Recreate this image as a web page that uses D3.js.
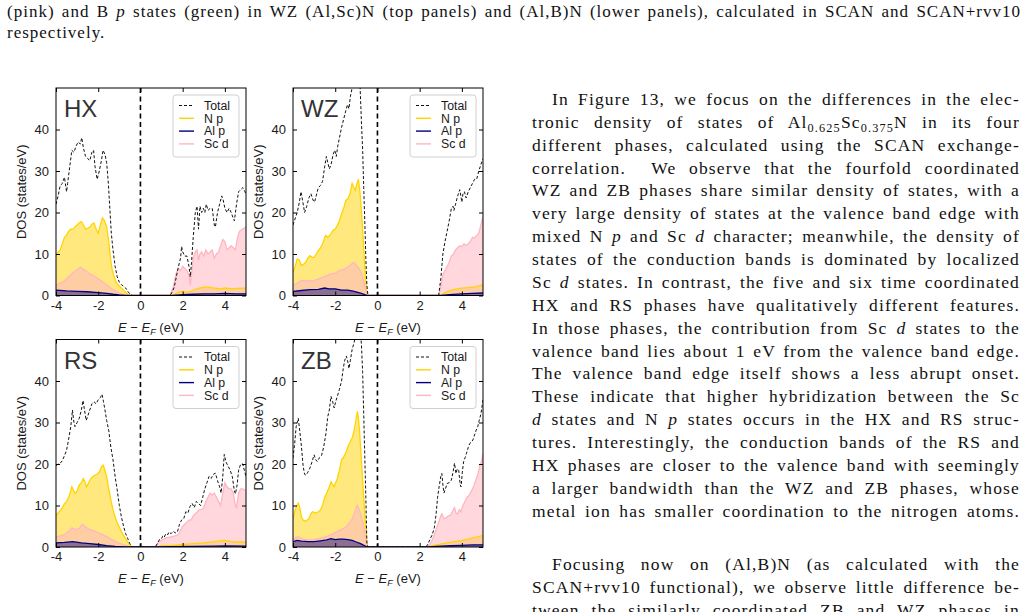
<!DOCTYPE html>
<html>
<head>
<meta charset="utf-8">
<script src="https://cdn.jsdelivr.net/npm/d3@7"></script>
<style>
  body { margin: 0; background: #fff; }
  svg { display: block; }
</style>
</head>
<body>
<svg id="page" width="1029" height="612"></svg>
<script>
// ---- data: [E - E_F (eV), DOS (states/eV)] ----
var phases = ['HX', 'WZ', 'RS', 'ZB'];
var legendLabels = ['Total', 'N p', 'Al p', 'Sc d'];
var xTicks = [-4, -2, 0, 2, 4];
var yTicks = [0, 10, 20, 30, 40];

var hxTotal = [[-4,22],[-3.9,24],[-3.8,26.5],[-3.7,27],[-3.6,28.5],[-3.5,25],[-3.45,27],[-3.35,31],[-3.25,35],[-3.15,34.5],[-3.05,36],[-2.95,37],[-2.85,36.5],[-2.78,38],[-2.7,35.5],[-2.6,33.5],[-2.5,33],[-2.4,32.5],[-2.3,34.5],[-2.22,35],[-2.15,31],[-2.05,28],[-1.95,30],[-1.85,32.5],[-1.77,35],[-1.68,34],[-1.6,32],[-1.52,27],[-1.45,21],[-1.38,15],[-1.3,11],[-1.2,7],[-1.1,4.5],[-1.0,3.2],[-0.9,2.6],[-0.8,2.2],[-0.7,1.8],[-0.6,1.0],[-0.5,0.4],[-0.4,0],[1.4,0],[1.5,0.8],[1.6,2],[1.7,4.5],[1.8,7],[1.9,9],[1.95,11.8],[2.0,10.5],[2.1,9.5],[2.2,9.5],[2.3,7],[2.36,4.5],[2.42,8],[2.5,14],[2.6,20],[2.68,21.5],[2.75,16],[2.82,21.5],[2.9,20],[2.98,21],[3.05,20],[3.12,22],[3.2,20.5],[3.3,21],[3.4,21],[3.5,17],[3.55,16.5],[3.65,20],[3.75,22],[3.85,24],[3.92,23],[4.0,21],[4.1,20],[4.2,21],[4.3,20],[4.4,18.5],[4.45,18],[4.55,22],[4.65,25],[4.75,25.5],[4.85,26],[4.95,25],[5.0,24.5]];
var hxNp = [[-4,9.5],[-3.9,10.5],[-3.8,11],[-3.7,12.5],[-3.6,14],[-3.5,14.5],[-3.4,15.5],[-3.3,16],[-3.2,16],[-3.1,16.5],[-3,17],[-2.9,17.5],[-2.8,17.8],[-2.7,17],[-2.6,16],[-2.5,16.2],[-2.4,16.5],[-2.3,17.2],[-2.2,17.5],[-2.1,16],[-2.0,15],[-1.9,17],[-1.8,18.7],[-1.7,18],[-1.6,16.5],[-1.5,13],[-1.42,9],[-1.35,6.5],[-1.25,4.5],[-1.15,3.2],[-1.0,2.2],[-0.9,1.8],[-0.8,1.3],[-0.7,0.8],[-0.6,0.4],[-0.5,0.1],[-0.4,0],[1.45,0],[1.6,0.3],[1.8,0.8],[2.0,1.0],[2.2,0.8],[2.4,1.0],[2.6,1.5],[2.8,1.8],[3.0,2.0],[3.2,2.0],[3.5,1.8],[3.8,1.6],[4.0,1.8],[4.3,1.6],[4.6,1.7],[5.0,1.8]];
var hxAlp = [[-4,1.3],[-3.5,1.1],[-3,1.0],[-2.5,0.9],[-2,0.7],[-1.6,0.5],[-1.3,0.3],[-1.0,0.15],[-0.7,0.05],[-0.5,0],[1.5,0],[2,0.2],[2.5,0.3],[3,0.4],[3.5,0.4],[4,0.5],[4.5,0.4],[5,0.4]];
var hxScd = [[-4,2.5],[-3.8,3],[-3.6,3.5],[-3.4,4.5],[-3.2,5.5],[-3.0,6.2],[-2.85,6.8],[-2.75,6.5],[-2.6,6],[-2.4,5.2],[-2.2,4.7],[-2.0,4],[-1.8,3.3],[-1.6,2.6],[-1.4,1.8],[-1.2,1.1],[-1.0,0.6],[-0.8,0.3],[-0.6,0.1],[-0.45,0],[1.4,0],[1.55,2],[1.7,5.5],[1.8,6.5],[1.9,6],[2.0,7],[2.1,6.5],[2.2,6],[2.3,5],[2.36,2.5],[2.42,5],[2.5,9],[2.6,10.5],[2.68,11],[2.75,8.5],[2.82,10],[2.9,10.5],[3.0,9.5],[3.1,11],[3.2,10],[3.3,10.5],[3.4,11],[3.5,9],[3.6,10],[3.7,10.5],[3.8,12],[3.9,13.5],[4.0,13],[4.1,11],[4.2,11.5],[4.3,12],[4.4,11.5],[4.5,11],[4.6,14],[4.7,15.5],[4.85,16],[5.0,16.5]];

var wzTotal = [[-4,17],[-3.9,18.5],[-3.8,20],[-3.7,22.5],[-3.62,25],[-3.55,23],[-3.45,20],[-3.35,21.5],[-3.25,23.5],[-3.15,24.5],[-3.05,23],[-2.98,22.5],[-2.9,24],[-2.8,26],[-2.7,26.5],[-2.6,27.5],[-2.5,31],[-2.42,33.5],[-2.35,32],[-2.28,30.5],[-2.2,31.5],[-2.1,34],[-2.02,35],[-1.95,33.5],[-1.88,36],[-1.8,38],[-1.7,40.5],[-1.6,42.5],[-1.5,44.5],[-1.42,46],[-1.35,45],[-1.28,48],[-1.2,50],[-1.1,53],[-1.0,55],[-0.9,54],[-0.82,50],[-0.76,42],[-0.7,35],[-0.65,26],[-0.6,18],[-0.55,9],[-0.5,2.5],[-0.45,0],[2.9,0],[3.0,4],[3.1,10],[3.2,13],[3.3,15.5],[3.4,18],[3.5,21],[3.58,21.5],[3.62,20.5],[3.7,22],[3.8,24],[3.9,25.5],[3.95,24],[4.0,22.5],[4.05,24.5],[4.12,25],[4.2,23.5],[4.3,25],[4.4,26],[4.5,27],[4.6,28],[4.7,28],[4.8,30],[4.9,31.5],[5.0,33]];
var wzNp = [[-4,5.6],[-3.9,7],[-3.8,8.8],[-3.7,8.5],[-3.6,7.2],[-3.5,7.5],[-3.4,8],[-3.3,9],[-3.2,9.6],[-3.1,9.2],[-3.0,9.2],[-2.9,10],[-2.8,10.8],[-2.7,11.5],[-2.6,12.4],[-2.5,14],[-2.45,14.5],[-2.35,14],[-2.25,14.5],[-2.1,15.7],[-2.0,16],[-1.9,16.9],[-1.8,18],[-1.7,19.7],[-1.6,21],[-1.5,22.9],[-1.4,23.3],[-1.3,24.5],[-1.2,27],[-1.12,26],[-1.05,25.3],[-0.97,27],[-0.9,28],[-0.83,25],[-0.77,21],[-0.7,15.7],[-0.6,6.8],[-0.52,1.2],[-0.47,0],[3.0,0],[3.2,0.7],[3.4,1.1],[3.6,1.4],[3.8,1.6],[4.0,1.8],[4.3,1.9],[4.6,2.1],[4.8,2.3],[5.0,2.6]];
var wzAlp = [[-4,1.0],[-3.6,1.2],[-3.2,1.4],[-2.8,1.5],[-2.5,1.8],[-2.3,1.6],[-2.0,1.6],[-1.7,1.3],[-1.4,1.3],[-1.1,1.0],[-0.8,0.6],[-0.6,0.2],[-0.47,0],[3.0,0],[3.4,0.2],[4.0,0.4],[4.5,0.5],[5.0,0.6]];
var wzScd = [[-4,2.4],[-3.8,3],[-3.6,3.6],[-3.3,3.5],[-3.0,3.6],[-2.8,4],[-2.6,4.4],[-2.4,4.8],[-2.2,5.2],[-2.0,5.4],[-1.8,6],[-1.6,6.3],[-1.4,6.8],[-1.25,7.5],[-1.15,8],[-1.05,7.6],[-0.95,7],[-0.85,6.4],[-0.75,5.2],[-0.65,3.5],[-0.55,1.2],[-0.47,0],[2.9,0],[3.0,2],[3.1,5],[3.2,6],[3.3,7],[3.4,8],[3.5,9.5],[3.6,10],[3.7,11],[3.8,11.5],[3.9,12],[4.0,11.8],[4.1,12.5],[4.2,12],[4.3,12.5],[4.4,13],[4.5,14],[4.6,13.8],[4.7,14.5],[4.8,15],[4.9,17],[5.0,19]];

var rsTotal = [[-4,19.6],[-3.9,20],[-3.8,20.2],[-3.7,20.8],[-3.6,22],[-3.5,23.3],[-3.4,26],[-3.3,29],[-3.22,33],[-3.15,30],[-3.1,29],[-3.0,30],[-2.9,31],[-2.8,33],[-2.72,35.3],[-2.65,33],[-2.57,30.5],[-2.5,31.5],[-2.4,33],[-2.3,34.5],[-2.2,35],[-2.1,34.5],[-2.0,35.5],[-1.9,36],[-1.82,36.8],[-1.75,35],[-1.68,33],[-1.6,30.5],[-1.5,28],[-1.4,24],[-1.3,21],[-1.2,17],[-1.1,13.7],[-1.0,10],[-0.9,7.2],[-0.8,5],[-0.7,3.2],[-0.6,2],[-0.5,0.8],[-0.4,0],[0.7,0],[0.8,0.8],[0.9,1.8],[1.0,2],[1.05,2.6],[1.12,2.3],[1.2,3.2],[1.3,3],[1.35,3.6],[1.45,3.2],[1.55,3.8],[1.65,3.4],[1.75,3.6],[1.85,5.5],[1.95,6.5],[2.05,6.8],[2.15,8.5],[2.25,8.2],[2.35,9.8],[2.45,10.5],[2.55,9.5],[2.65,11],[2.75,10.5],[2.85,10],[2.95,12],[3.05,14],[3.15,15.5],[3.25,17],[3.35,16.5],[3.45,17.5],[3.55,17.8],[3.65,16],[3.75,14.5],[3.82,13],[3.9,17],[3.97,22.3],[4.05,20.5],[4.15,19.5],[4.25,18.5],[4.35,17],[4.45,13.5],[4.5,12.8],[4.58,15],[4.65,18.5],[4.75,20],[4.85,20],[4.92,18.5],[5.0,17]];
var rsNp = [[-4,7.6],[-3.9,8.2],[-3.8,8.8],[-3.7,9.5],[-3.6,10.4],[-3.5,11],[-3.4,12],[-3.3,13.5],[-3.25,14.5],[-3.15,13.5],[-3.1,12.9],[-3.0,13.5],[-2.9,14.9],[-2.8,15.5],[-2.7,16.5],[-2.62,15.5],[-2.55,14.5],[-2.45,15.5],[-2.35,16.5],[-2.25,17],[-2.15,17.3],[-2.05,17.6],[-1.95,18],[-1.85,19.3],[-1.77,19.7],[-1.7,18.8],[-1.6,16.9],[-1.5,14],[-1.4,11.2],[-1.3,9],[-1.2,7.2],[-1.1,5.8],[-1.0,4.8],[-0.9,3.7],[-0.8,2.8],[-0.7,1.9],[-0.6,1.2],[-0.5,0.5],[-0.4,0],[0.8,0],[1.0,0.3],[1.5,0.4],[2.0,0.6],[2.5,0.8],[3.0,1.0],[3.5,1.3],[3.8,1.5],[4.0,1.6],[4.3,1.3],[4.6,1.2],[5.0,1.2]];
var rsAlp = [[-4,1.0],[-3.6,1.1],[-3.2,1.3],[-2.8,1.0],[-2.4,0.8],[-2.0,0.6],[-1.6,0.35],[-1.2,0.15],[-0.8,0.05],[-0.6,0],[0.8,0],[1.5,0.1],[2.5,0.15],[3.5,0.2],[4.0,0.25],[5.0,0.2]];
var rsScd = [[-4,2.4],[-3.8,2.7],[-3.6,3],[-3.4,3.8],[-3.25,4.6],[-3.1,4.2],[-2.9,4.5],[-2.75,5.5],[-2.6,4.8],[-2.4,4.2],[-2.2,3.9],[-2.0,3.5],[-1.8,3.0],[-1.6,2.5],[-1.4,1.9],[-1.2,1.4],[-1.0,0.9],[-0.8,0.5],[-0.6,0.2],[-0.45,0],[0.7,0],[0.85,1.2],[1.0,1.6],[1.2,2.2],[1.4,2.4],[1.6,2.6],[1.8,3],[1.9,4],[2.0,5],[2.1,5.5],[2.2,6],[2.3,6.5],[2.4,6.5],[2.5,7.5],[2.6,8],[2.7,8.5],[2.8,9],[2.9,9],[3.0,9.5],[3.1,11],[3.2,12],[3.3,13],[3.4,12.5],[3.5,13],[3.6,12],[3.7,11],[3.8,10],[3.9,13],[4.0,15.5],[4.1,14.5],[4.2,14],[4.3,14],[4.4,13],[4.5,10],[4.55,9.5],[4.65,13],[4.75,14],[4.85,14],[5.0,13.5]];

var zbTotal = [[-4,21.4],[-3.92,25],[-3.85,29],[-3.75,31],[-3.68,28],[-3.6,24.2],[-3.52,19.5],[-3.45,17.5],[-3.38,17.3],[-3.3,18],[-3.2,19],[-3.1,20.5],[-3.0,22.2],[-2.92,21],[-2.85,20.6],[-2.75,21.5],[-2.65,22],[-2.55,24],[-2.45,27],[-2.35,31.5],[-2.28,33],[-2.2,36.3],[-2.12,35],[-2.05,33.5],[-1.98,35],[-1.9,36.3],[-1.8,38],[-1.7,40],[-1.62,43],[-1.55,45],[-1.47,46],[-1.4,44.5],[-1.35,43],[-1.28,45],[-1.2,47.6],[-1.12,49],[-1.05,50.5],[-0.97,52],[-0.9,53],[-0.82,52],[-0.76,49],[-0.7,42],[-0.65,32],[-0.6,22],[-0.55,12],[-0.5,0.8],[-0.45,0],[2.3,0],[2.4,0.8],[2.5,2],[2.6,3],[2.7,4.8],[2.78,8],[2.85,12],[2.92,14.5],[3.0,17],[3.05,17.7],[3.1,15],[3.15,13],[3.22,14],[3.3,15.3],[3.4,15.5],[3.5,16.1],[3.58,18],[3.65,20.2],[3.72,17.7],[3.78,18.8],[3.85,18.5],[3.92,15],[3.96,14.5],[4.02,18],[4.08,20.5],[4.15,21.5],[4.22,22.6],[4.3,24],[4.38,25],[4.45,25.3],[4.52,25.8],[4.6,27],[4.68,28.2],[4.75,29],[4.82,30.5],[4.9,32],[5.0,35.5]];
var zbNp = [[-4,6.8],[-3.92,8.5],[-3.85,9.7],[-3.75,10.6],[-3.68,9.5],[-3.6,7.3],[-3.52,6.5],[-3.45,6.2],[-3.35,6.4],[-3.25,6.8],[-3.15,8],[-3.08,8.5],[-2.98,8.3],[-2.9,8.2],[-2.8,8.5],[-2.7,8.9],[-2.6,10],[-2.5,12],[-2.42,12.8],[-2.35,13.7],[-2.28,14.5],[-2.2,15.7],[-2.12,15],[-2.05,14.5],[-1.98,15.5],[-1.9,16.5],[-1.8,18.5],[-1.7,21],[-1.62,21.5],[-1.55,22.2],[-1.47,23],[-1.4,24.2],[-1.32,25],[-1.25,25.8],[-1.18,26.5],[-1.1,28.2],[-1.02,30.5],[-0.95,32.7],[-0.9,31],[-0.85,28.2],[-0.8,24],[-0.75,20.2],[-0.7,16],[-0.65,12],[-0.6,8],[-0.55,4],[-0.48,0.4],[-0.45,0],[2.4,0],[2.5,0.2],[2.8,0.5],[3.0,0.7],[3.3,1.0],[3.5,1.2],[3.8,1.4],[4.0,1.6],[4.3,1.9],[4.5,2.2],[4.8,2.5],[5.0,2.8]];
var zbAlp = [[-4,1.3],[-3.8,1.6],[-3.6,1.4],[-3.3,1.3],[-3.0,1.3],[-2.7,1.5],[-2.4,1.7],[-2.2,2.0],[-2.0,1.8],[-1.8,1.9],[-1.6,1.9],[-1.4,1.8],[-1.2,1.6],[-1.0,1.2],[-0.8,0.8],[-0.6,0.3],[-0.5,0],[2.4,0],[3.0,0.2],[3.5,0.3],[4.0,0.4],[4.5,0.5],[5.0,0.5]];
var zbScd = [[-4,1.8],[-3.85,2.3],[-3.75,2.5],[-3.6,2.1],[-3.45,1.8],[-3.2,1.7],[-3.0,1.8],[-2.8,2],[-2.6,2.2],[-2.4,2.5],[-2.2,3],[-2.0,3.5],[-1.8,4],[-1.6,4.5],[-1.45,5],[-1.3,6],[-1.2,6.8],[-1.1,8],[-1.0,9.5],[-0.95,10],[-0.88,9.3],[-0.8,8],[-0.72,6.5],[-0.65,5],[-0.58,3],[-0.52,1.2],[-0.46,0],[2.35,0],[2.5,0.8],[2.6,1.8],[2.7,3],[2.8,4.5],[2.9,6],[3.0,7.5],[3.05,8],[3.15,6.8],[3.25,7],[3.35,7.5],[3.45,7.6],[3.55,8.5],[3.65,9.5],[3.72,8.2],[3.8,8],[3.88,9],[3.95,8.5],[4.05,10],[4.15,11],[4.25,12],[4.35,12.5],[4.45,13.5],[4.55,14.5],[4.65,16],[4.75,17.5],[4.85,19.5],[4.95,21],[5.0,22.5]];

var dosByPhase = {
  HX: {total: hxTotal, np: hxNp, alp: hxAlp, scd: hxScd},
  WZ: {total: wzTotal, np: wzNp, alp: wzAlp, scd: wzScd},
  RS: {total: rsTotal, np: rsNp, alp: rsAlp, scd: rsScd},
  ZB: {total: zbTotal, np: zbNp, alp: zbAlp, scd: zbScd}
};

// ---- page text ----
var captionLines = [
  '(pink) and B *p* states (green) in WZ (Al,Sc)N (top panels) and (Al,B)N (lower panels), calculated in SCAN and SCAN+rvv10',
  'respectively.'
];
var bodyLines = [
  'In Figure 13, we focus on the differences in the elec-',
  'tronic density of states of Al_{0.625}Sc_{0.375}N in its four',
  'different phases, calculated using the SCAN exchange-',
  'correlation.  We observe that the fourfold coordinated',
  'WZ and ZB phases share similar density of states, with a',
  'very large density of states at the valence band edge with',
  'mixed N *p* and Sc *d* character; meanwhile, the density of',
  'states of the conduction bands is dominated by localized',
  'Sc *d* states. In contrast, the five and six time coordinated',
  'HX and RS phases have qualitatively different features.',
  'In those phases, the contribution from Sc *d* states to the',
  'valence band lies about 1 eV from the valence band edge.',
  'The valence band edge itself shows a less abrupt onset.',
  'These indicate that higher hybridization between the Sc',
  '*d* states and N *p* states occurs in the HX and RS struc-',
  'tures. Interestingly, the conduction bands of the RS and',
  'HX phases are closer to the valence band with seemingly',
  'a larger bandwidth than the WZ and ZB phases, whose',
  'metal ion has smaller coordination to the nitrogen atoms.'
];
var body2Lines = [
  'Focusing now on (Al,B)N (as calculated with the',
  'SCAN+rvv10 functional), we observe little difference be-',
  'tween the similarly coordinated ZB and WZ phases in'
];

(function () {
  var svg = d3.select('#page');
  var serif = '"Liberation Serif", "Times New Roman", serif';
  var sans = '"Liberation Sans", Arial, Helvetica, sans-serif';

  // writes a line with *italic* and _{sub} pieces; justified lines get
  // letter spacing (wider Computer Modern look) plus word spacing
  function richLine(x0, yBase, width, str, size, justify, baseLs) {
    var t = svg.append('text')
      .attr('x', x0).attr('y', yBase)
      .attr('font-family', serif).attr('font-size', size)
      .attr('fill', '#111')
      .style('white-space', 'pre');
    var parts = str.split(/(\*[^*]+\*|_\{[^}]+\})/).filter(function (s) { return s.length; });
    var shifted = false;
    parts.forEach(function (p) {
      var ts = t.append('tspan');
      if (p.charAt(0) === '*') {
        ts.text(p.slice(1, -1)).attr('font-style', 'italic');
      } else if (p.slice(0, 2) === '_{') {
        ts.text(p.slice(2, -1)).attr('font-size', size * 0.7).attr('dy', 4);
        shifted = true;
        return;
      } else {
        ts.text(p);
      }
      if (shifted) { ts.attr('dy', -4); shifted = false; }
    });
    var plain = str.replace(/\*|_\{|\}/g, '');
    var nChars = plain.length;
    var nSpaces = (plain.match(/ /g) || []).length;
    var natural = t.node().getComputedTextLength();
    var ls = baseLs;
    if (justify) {
      var ws = (width - natural - nChars * ls) / Math.max(nSpaces, 1);
      if (ws < 0) { ls = (width - natural) / nChars; ws = 0; }
      t.style('letter-spacing', ls + 'px').style('word-spacing', ws + 'px');
    } else {
      t.style('letter-spacing', ls + 'px');
    }
  }

  richLine(7, 17, 1014, captionLines[0], 17, true, 1.0);
  richLine(7, 38, 0, captionLines[1], 17, false, 1.0);

  bodyLines.forEach(function (s, i) {
    var indent = i === 0 ? 20 : 0;
    richLine(532 + indent, 105 + i * 22.87, 488 - indent, s, 17.5, true, 1.15);
  });
  body2Lines.forEach(function (s, i) {
    var indent = i === 0 ? 20 : 0;
    richLine(532 + indent, 570 + i * 22.87, 488 - indent, s, 17.5, true, 1.15);
  });

  // ---- DOS panels ----
  var W = 190, H = 207.5;
  var frames = {HX: [56, 88], WZ: [293, 88], RS: [56, 339.5], ZB: [293, 339.5]};
  var x = d3.scaleLinear().domain([-4, 5]).range([0, W]);
  var y = d3.scaleLinear().domain([0, 50]).range([H, 0]);

  var colors = {np: '#FFD400', alp: '#000080', scd: '#FFB6C1'};
  var fillAlpha = {np: 0.5, scd: 0.55, alp: 0.45};
  var legendKeys = ['total', 'np', 'alp', 'scd'];

  var area = d3.area().x(function (d) { return x(d[0]); }).y0(y(0)).y1(function (d) { return y(d[1]); });
  var line = d3.line().x(function (d) { return x(d[0]); }).y(function (d) { return y(d[1]); });

  phases.forEach(function (ph, pi) {
    var dos = dosByPhase[ph];
    var g = svg.append('g').attr('transform', 'translate(' + frames[ph] + ')');

    g.append('clipPath').attr('id', 'clip' + pi)
      .append('rect').attr('width', W).attr('height', H);
    var plot = g.append('g').attr('clip-path', 'url(#clip' + pi + ')');

    ['np', 'scd', 'alp'].forEach(function (k) {
      plot.append('path').attr('d', area(dos[k]))
        .attr('fill', colors[k]).attr('fill-opacity', fillAlpha[k]).attr('stroke', 'none');
    });
    ['np', 'scd', 'alp'].forEach(function (k) {
      plot.append('path').attr('d', line(dos[k]))
        .attr('fill', 'none').attr('stroke', colors[k]).attr('stroke-width', 1.3);
    });
    plot.append('path').attr('d', line(dos.total))
      .attr('fill', 'none').attr('stroke', '#111').attr('stroke-width', 1)
      .attr('stroke-dasharray', '3,2');

    // Fermi level
    g.append('line')
      .attr('x1', x(0)).attr('x2', x(0)).attr('y1', 0).attr('y2', H)
      .attr('stroke', '#000').attr('stroke-width', 1.6).attr('stroke-dasharray', '5,3.5');

    // axes, ticks pointing inwards on all four sides
    var ax = g.append('g').attr('font-family', sans);
    ax.append('g').attr('transform', 'translate(0,' + H + ')')
      .call(d3.axisBottom(x).tickValues(xTicks).tickSizeInner(-4).tickSizeOuter(0)
        .tickPadding(5).tickFormat(function (d) { return String(d); }));
    ax.append('g')
      .call(d3.axisLeft(y).tickValues(yTicks).tickSizeInner(-4).tickSizeOuter(0).tickPadding(7));
    ax.append('g')
      .call(d3.axisTop(x).tickValues(xTicks).tickSizeInner(-4).tickSizeOuter(0).tickFormat(''));
    ax.append('g').attr('transform', 'translate(' + W + ',0)')
      .call(d3.axisRight(y).tickValues(yTicks).tickSizeInner(-4).tickSizeOuter(0).tickFormat(''));
    ax.selectAll('.domain').remove();
    ax.selectAll('.tick line').attr('stroke', '#000');
    ax.selectAll('.tick text').attr('font-size', 13).attr('fill', '#1a1a1a');
    g.append('rect').attr('width', W).attr('height', H)
      .attr('fill', 'none').attr('stroke', '#000').attr('stroke-width', 1);

    // axis titles
    g.append('text')
      .attr('transform', 'translate(-35,' + (H / 2) + ')rotate(-90)')
      .attr('text-anchor', 'middle').attr('dominant-baseline', 'central')
      .attr('font-family', sans).attr('font-size', 13).attr('fill', '#1a1a1a')
      .text('DOS (states/eV)');
    var xl = g.append('text')
      .attr('x', W / 2).attr('y', H + 36).attr('text-anchor', 'middle')
      .attr('font-family', sans).attr('font-size', 13).attr('fill', '#1a1a1a');
    xl.append('tspan').attr('font-style', 'italic').text('E');
    xl.append('tspan').text(' \u2212 ');
    xl.append('tspan').attr('font-style', 'italic').text('E');
    xl.append('tspan').attr('font-style', 'italic').attr('font-size', 9).attr('dy', 3).text('F');
    xl.append('tspan').attr('dy', -3).text(' (eV)');

    // phase label
    g.append('text').attr('x', 8).attr('y', 29)
      .attr('font-family', sans).attr('font-size', 24).attr('fill', '#333')
      .text(ph);

    // legend
    var lg = g.append('g').attr('transform', 'translate(' + (W - 73) + ',7)');
    lg.append('rect').attr('width', 66).attr('height', 62).attr('rx', 3)
      .attr('fill', '#fff').attr('fill-opacity', 0.85)
      .attr('stroke', '#d0d0d0').attr('stroke-width', 1);
    legendKeys.forEach(function (k, i) {
      var cy = 10.5 + i * 12.8;
      lg.append('line').attr('x1', 6).attr('x2', 21).attr('y1', cy).attr('y2', cy)
        .attr('stroke', k === 'total' ? '#111' : colors[k])
        .attr('stroke-width', k === 'total' ? 1 : 1.4)
        .attr('stroke-dasharray', k === 'total' ? '3,2' : null);
      lg.append('text').attr('x', 31).attr('y', cy + 4.2)
        .attr('font-family', sans).attr('font-size', 12.3).attr('fill', '#1a1a1a')
        .text(legendLabels[i]);
    });
  });
})();
</script>
</body>
</html>
